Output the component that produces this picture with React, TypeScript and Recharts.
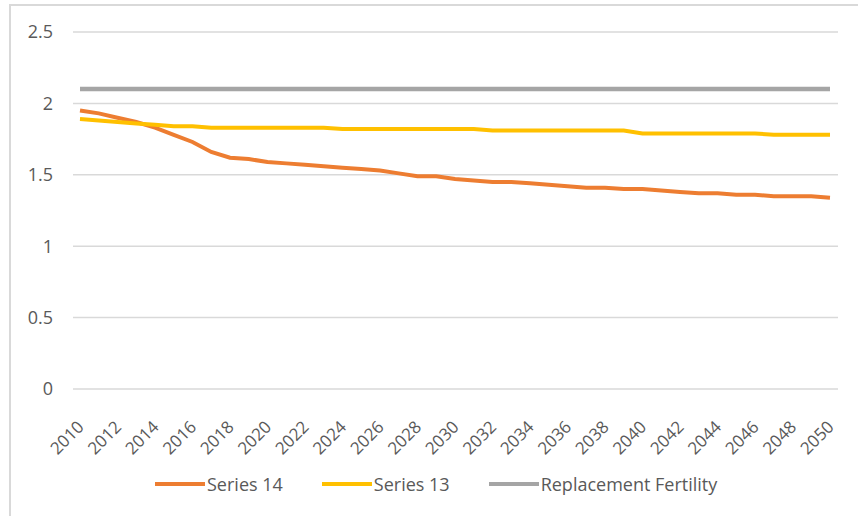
import React from 'react';
import { LineChart, Line, XAxis, YAxis, CartesianGrid, Legend } from 'recharts';

const years = Array.from({ length: 41 }, (_, i) => String(2010 + i));

const series14 = [
  1.95, 1.93, 1.90, 1.87, 1.83, 1.78, 1.73, 1.66, 1.62, 1.61,
  1.59, 1.58, 1.57, 1.56, 1.55, 1.54, 1.53, 1.51, 1.49, 1.49,
  1.47, 1.46, 1.45, 1.45, 1.44, 1.43, 1.42, 1.41, 1.41, 1.40,
  1.40, 1.39, 1.38, 1.37, 1.37, 1.36, 1.36, 1.35, 1.35, 1.35,
  1.34,
];

const series13 = [
  1.89, 1.88, 1.87, 1.86, 1.85, 1.84, 1.84, 1.83, 1.83, 1.83,
  1.83, 1.83, 1.83, 1.83, 1.82, 1.82, 1.82, 1.82, 1.82, 1.82,
  1.82, 1.82, 1.81, 1.81, 1.81, 1.81, 1.81, 1.81, 1.81, 1.81,
  1.79, 1.79, 1.79, 1.79, 1.79, 1.79, 1.79, 1.78, 1.78, 1.78,
  1.78,
];

const replacement = years.map(() => 2.1);

const yTicks = [0, 0.5, 1, 1.5, 2, 2.5];

const legendItems = [
  { name: 'Series 14', color: '#ED7D31' },
  { name: 'Series 13', color: '#FFC000' },
  { name: 'Replacement Fertility', color: '#A5A5A5' },
];

const data = years.map((year, i) => ({
  year,
  s14: series14[i],
  s13: series13[i],
  repl: replacement[i],
}));

const FONT = '"Open Sans", "Noto Sans", sans-serif';
const TEXT = '#595959';

const YearTick = ({ x, y, payload }: any) => (
  <text
    x={x + 5}
    y={y + 31}
    transform={`rotate(-45 ${x + 5} ${y + 31})`}
    textAnchor="end"
    fill={TEXT}
    fontSize={17}
    fontFamily={FONT}
  >
    {payload.value}
  </text>
);

const LegendContent = () => (
  <div style={{ display: 'flex', gap: 39, fontFamily: FONT, fontSize: 18, color: TEXT, paddingLeft: 155 }}>
    {legendItems.map((item) => (
      <div key={item.name} style={{ display: 'flex', alignItems: 'center' }}>
        <span style={{ display: 'inline-block', width: 50, height: 4, background: item.color, marginRight: 2 }} />
        <span>{item.name}</span>
      </div>
    ))}
  </div>
);

export default function App() {
  return (
    <div style={{ position: 'absolute', left: 0, top: 0, width: 858, height: 516, background: '#fff', overflow: 'hidden' }}>
      <div
        style={{
          position: 'absolute',
          left: 9,
          top: 4,
          right: -4,
          bottom: -4,
          borderLeft: '2px solid #d9d9d9',
          borderTop: '2px solid #d9d9d9',
        }}
      />
      <LineChart
        width={858}
        height={516}
        data={data}
        margin={{ top: 32, right: 20, left: 13, bottom: 43 }}
        style={{ position: 'absolute', left: 0, top: 0 }}
      >
        <CartesianGrid vertical={false} stroke="#d9d9d9" strokeWidth={1.5} />
        <XAxis
          dataKey="year"
          interval={1}
          axisLine={false}
          tickLine={false}
          padding={{ left: 7, right: 8 }}
          height={60}
          tick={<YearTick />}
        />
        <YAxis
          domain={[0, 2.5]}
          ticks={yTicks}
          width={60}
          axisLine={false}
          tickLine={false}
          tickMargin={14}
          tick={{ fill: TEXT, fontSize: 18, fontFamily: FONT }}
        />
        <Legend
          content={<LegendContent />}
          wrapperStyle={{ position: 'absolute', left: 0, width: 858, top: 472 }}
        />
        <Line dataKey="s14" stroke="#ED7D31" strokeWidth={4} dot={false} isAnimationActive={false} />
        <Line dataKey="s13" stroke="#FFC000" strokeWidth={4} dot={false} isAnimationActive={false} />
        <Line dataKey="repl" stroke="#A5A5A5" strokeWidth={4.5} dot={false} isAnimationActive={false} />
      </LineChart>
    </div>
  );
}
